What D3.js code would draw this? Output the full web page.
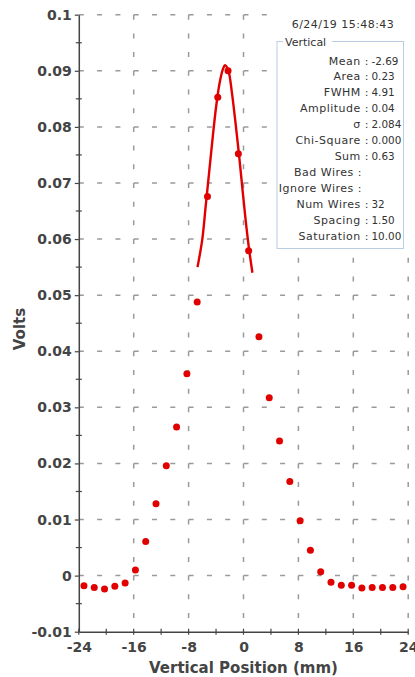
<!DOCTYPE html>
<html>
<head>
<meta charset="utf-8">
<script src="https://cdn.jsdelivr.net/npm/d3@7/dist/d3.min.js"></script>
<style>
  html, body { margin: 0; padding: 0; background: #ffffff; }
  svg { display: block; }
</style>
</head>
<body>
<svg id="chart" width="415" height="677"></svg>
<script>
// Wire positions (mm) and measured wire signals (V)
const wirePositions = [-23.25, -21.75, -20.25, -18.75, -17.25, -15.75, -14.25, -12.75,
  -11.25, -9.75, -8.25, -6.75, -5.25, -3.75, -2.25, -0.75,
  0.75, 2.25, 3.75, 5.25, 6.75, 8.25, 9.75, 11.25,
  12.75, 14.25, 15.75, 17.25, 18.75, 20.25, 21.75, 23.25];
const wireVolts = [-0.0018, -0.0021, -0.0024, -0.0019, -0.0013, 0.0010, 0.0061, 0.0128,
  0.0196, 0.0265, 0.0360, 0.0488, 0.0676, 0.0853, 0.0900, 0.0752,
  0.0579, 0.0426, 0.0317, 0.0240, 0.0168, 0.0098, 0.0045, 0.0007,
  -0.0012, -0.0017, -0.0017, -0.0022, -0.0021, -0.0021, -0.0021, -0.0020];

// Gaussian fit curve samples
const fitPositions = [-6.7, -6.0, -5.5, -5.0, -4.5, -4.0, -3.5, -3.0, -2.69,
  -2.2, -1.7, -1.2, -0.7, -0.2, 0.3, 0.8, 1.3];
const fitVolts = [0.0550, 0.0600, 0.0660, 0.0720, 0.0780, 0.0835, 0.0877, 0.0903, 0.0910,
  0.0900, 0.0862, 0.0811, 0.0756, 0.0695, 0.0635, 0.0583, 0.0540];

// Axis ticks
const xTickValues = [-24, -16, -8, 0, 8, 16, 24];
const xTickLabels = ["-24", "-16", "-8", "0", "8", "16", "24"];
const xMinorTicks = [-20, -12, -4, 4, 12, 20];
const yTickValues = [-0.01, 0, 0.01, 0.02, 0.03, 0.04, 0.05, 0.06, 0.07, 0.08, 0.09, 0.1];
const yTickLabels = ["-0.01", "0", "0.01", "0.02", "0.03", "0.04", "0.05", "0.06", "0.07", "0.08", "0.09", "0.1"];
const yMinorTicks = [-0.005, 0.005, 0.015, 0.025, 0.035, 0.045, 0.055, 0.065, 0.075, 0.085, 0.095];

// Statistics panel
const timestamp = "6/24/19 15:48:43";
const panelTitle = "Vertical";
const statLabels = ["Mean", "Area", "FWHM", "Amplitude", "σ", "Chi-Square", "Sum",
  "Bad Wires", "Ignore Wires", "Num Wires", "Spacing", "Saturation"];
const statValues = ["-2.69", "0.23", "4.91", "0.04", "2.084", "0.000", "0.63",
  "", "", "32", "1.50", "10.00"];

const xTitle = "Vertical Position (mm)";
const yTitle = "Volts";

const svg = d3.select("#chart");
const plotLeft = 78.8, plotRight = 408.2, plotTop = 14.7, plotBottom = 631.7;

const x = d3.scaleLinear().domain([-24, 24]).range([plotLeft, plotRight]);
const y = d3.scaleLinear().domain([-0.01, 0.1]).range([plotBottom, plotTop]);

const axisColor = "#444";
const gridColor = "#9a9a9a";
const red = "#e00000";

// Grid lines
const grid = svg.append("g");
grid.selectAll("line.h").data(yTickValues.slice(1)).join("line")
  .attr("x1", plotLeft).attr("x2", plotRight)
  .attr("y1", d => y(d)).attr("y2", d => y(d))
  .attr("stroke", gridColor).attr("stroke-width", 1.5)
  .attr("stroke-dasharray", "5," + ((x(8) - x(0)) / 3 - 5));
grid.selectAll("line.v").data(xTickValues.slice(1)).join("line")
  .attr("x1", d => x(d)).attr("x2", d => x(d))
  .attr("y1", plotTop).attr("y2", plotBottom)
  .attr("stroke", gridColor).attr("stroke-width", 1.5)
  .attr("stroke-dasharray", "5," + ((y(0) - y(0.01)) / 3 - 5));

// White panel behind the statistics
svg.append("rect").attr("x", 273).attr("y", 0).attr("width", 142).attr("height", 252)
  .attr("fill", "#ffffff");

// Axes
const fontFamily = "'DejaVu Sans', sans-serif";
const yAxis = svg.append("g").attr("transform", `translate(${plotLeft},0)`)
  .call(d3.axisLeft(y).tickValues(yTickValues)
    .tickFormat((d, i) => yTickLabels[i]).tickSizeInner(4).tickSizeOuter(0).tickPadding(3));
const xAxis = svg.append("g").attr("transform", `translate(0,${plotBottom})`)
  .call(d3.axisBottom(x).tickValues(xTickValues)
    .tickFormat((d, i) => xTickLabels[i]).tickSizeInner(0).tickSizeOuter(0).tickPadding(10));

[yAxis, xAxis].forEach(g => {
  g.select(".domain").attr("stroke", axisColor).attr("stroke-width", 1.5);
  g.selectAll(".tick line").attr("stroke", axisColor).attr("stroke-width", 1.2);
  g.selectAll(".tick text")
    .attr("fill", axisColor)
    .style("font-family", fontFamily)
    .style("font-weight", "bold")
    .style("font-size", "14px");
});

// Crossing ticks on the x axis, minor ticks on the y axis
svg.append("g").selectAll("line").data(xTickValues.concat(xMinorTicks)).join("line")
  .attr("x1", d => x(d)).attr("x2", d => x(d))
  .attr("y1", plotBottom - 3).attr("y2", plotBottom + 3)
  .attr("stroke", axisColor).attr("stroke-width", 1.2);
svg.append("g").selectAll("line").data(yMinorTicks).join("line")
  .attr("x1", plotLeft - 3).attr("x2", plotLeft + 3)
  .attr("y1", d => y(d)).attr("y2", d => y(d))
  .attr("stroke", axisColor).attr("stroke-width", 1.2);

// Axis titles
svg.append("text")
  .attr("x", (plotLeft + plotRight) / 2).attr("y", 672.5)
  .attr("text-anchor", "middle")
  .attr("fill", "#444")
  .style("font-family", fontFamily).style("font-weight", "bold").style("font-size", "15px")
  .text(xTitle);
svg.append("text")
  .attr("transform", "translate(24.5,329) rotate(-90)")
  .attr("text-anchor", "middle")
  .attr("fill", "#444")
  .style("font-family", fontFamily).style("font-weight", "bold").style("font-size", "15px")
  .text(yTitle);

// Fit curve
const fitData = fitPositions.map((p, i) => [p, fitVolts[i]]);
svg.append("path")
  .datum(fitData)
  .attr("fill", "none")
  .attr("stroke", red)
  .attr("stroke-width", 2.4)
  .attr("d", d3.line().x(d => x(d[0])).y(d => y(d[1])).curve(d3.curveCatmullRom));

// Wire points
const wireData = wirePositions.map((p, i) => [p, wireVolts[i]]);
svg.append("g").selectAll("circle").data(wireData).join("circle")
  .attr("cx", d => x(d[0])).attr("cy", d => y(d[1]))
  .attr("r", 3.5)
  .attr("fill", red);

// Statistics panel
const panel = svg.append("g")
  .style("font-family", fontFamily).style("font-size", "11px").attr("fill", "#333");
panel.append("text").attr("x", 343).attr("y", 28).attr("text-anchor", "middle")
  .style("letter-spacing", "0.45px").text(timestamp);
panel.append("rect")
  .attr("x", 277).attr("y", 41.5).attr("width", 126.5).attr("height", 207)
  .attr("fill", "none").attr("stroke", "#b9cde3").attr("stroke-width", 1);
panel.append("rect").attr("x", 283).attr("y", 35).attr("width", 49).attr("height", 12).attr("fill", "#ffffff");
panel.append("text").attr("x", 285).attr("y", 45.5).text(panelTitle);

const rows = panel.selectAll("g.row").data(statLabels).join("g")
  .attr("transform", (d, i) => `translate(0,${64.5 + i * 15.95})`);
rows.append("text")
  .attr("x", (d, i) => statValues[i] === "" ? 362 : 369)
  .attr("text-anchor", "end")
  .style("letter-spacing", "0.5px")
  .text(d => d + " :");
rows.append("text").attr("x", 371.5)
  .style("font-size", "10.4px")
  .text((d, i) => statValues[i]);
</script>
</body>
</html>
